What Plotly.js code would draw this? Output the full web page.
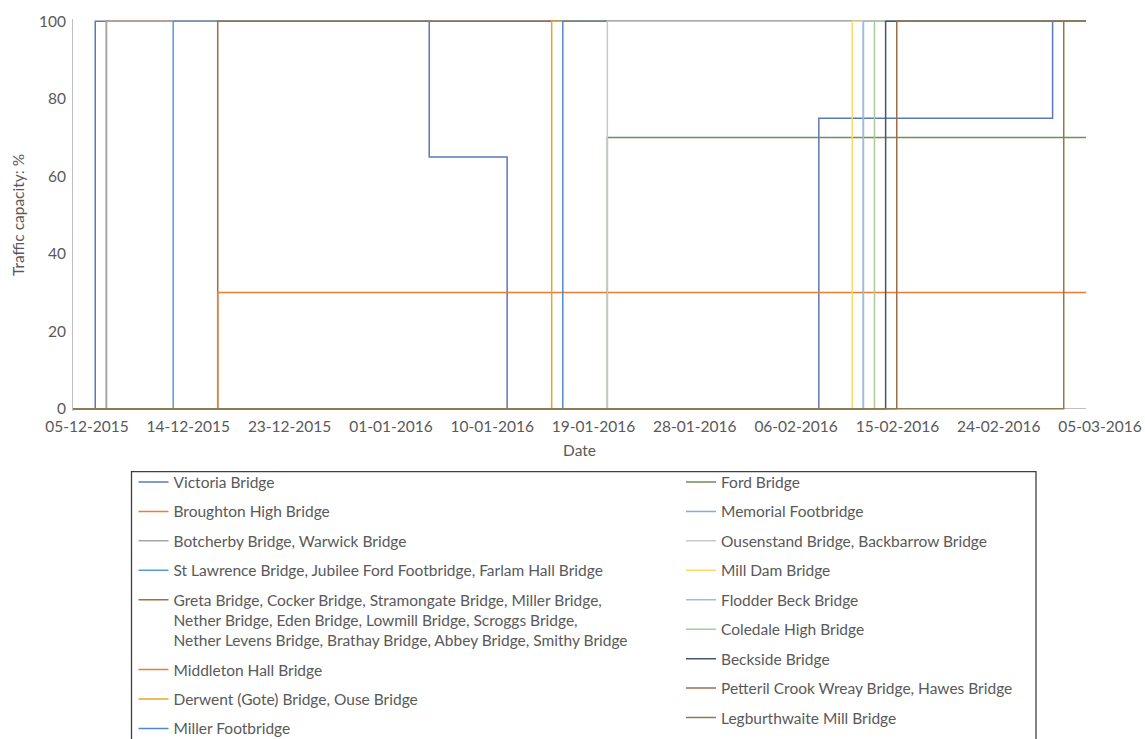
<!DOCTYPE html>
<html>
<head>
<meta charset="utf-8">
<script src="https://cdn.plot.ly/plotly-3.0.1.min.js"></script>
<style>
  html, body { margin: 0; padding: 0; background: #ffffff; }
  #chart { width: 1145px; height: 739px; }
</style>
</head>
<body>
<div id="chart"></div>
<script>
// Bridge names, one per series (drawn in this order)
const seriesNames = [
  'Victoria Bridge',
  'Broughton High Bridge',
  'Botcherby Bridge, Warwick Bridge',
  'St Lawrence Bridge, Jubilee Ford Footbridge, Farlam Hall Bridge',
  'Greta Bridge, Cocker Bridge, Stramongate Bridge, Miller Bridge,<br>Nether Bridge, Eden Bridge, Lowmill Bridge, Scroggs Bridge,<br>Nether Levens Bridge, Brathay Bridge, Abbey Bridge, Smithy Bridge',
  'Middleton Hall Bridge',
  'Derwent (Gote) Bridge, Ouse Bridge',
  'Miller Footbridge',
  'Ford Bridge',
  'Memorial Footbridge',
  'Ousenstand Bridge, Backbarrow Bridge',
  'Mill Dam Bridge',
  'Flodder Beck Bridge',
  'Coledale High Bridge',
  'Beckside Bridge',
  'Petteril Crook Wreay Bridge, Hawes Bridge',
  'Legburthwaite Mill Bridge'
];

// Dates on which each bridge's traffic capacity changed
const changeDates = [
  ['2015-12-05', '2015-12-07', '2016-01-06', '2016-01-13', '2016-02-10', '2016-03-02', '2016-03-05'],
  ['2015-12-05', '2015-12-08', '2016-03-05'],
  ['2015-12-05', '2015-12-08', '2016-03-05'],
  ['2015-12-05', '2015-12-14', '2016-03-05'],
  ['2015-12-05', '2015-12-18', '2016-03-05'],
  ['2015-12-05', '2015-12-18', '2016-03-05'],
  ['2015-12-05', '2016-01-17', '2016-03-05'],
  ['2015-12-05', '2016-01-18', '2016-03-05'],
  ['2015-12-05', '2016-01-22', '2016-03-05'],
  ['2015-12-05', '2016-02-14', '2016-03-05'],
  ['2015-12-05', '2016-01-22', '2016-03-05'],
  ['2015-12-05', '2016-02-13', '2016-03-05'],
  ['2015-12-05', '2016-02-14', '2016-03-05'],
  ['2015-12-05', '2016-02-15', '2016-03-05'],
  ['2015-12-05', '2016-02-16', '2016-03-05'],
  ['2015-12-05', '2016-02-17', '2016-03-05'],
  ['2015-12-05', '2016-03-03', '2016-03-05']
];

// Traffic capacity (%) from each change date onwards
const capacityValues = [
  [0, 100, 65, 0, 75, 100, 100],
  [0, 100, 100],
  [0, 100, 100],
  [0, 100, 100],
  [0, 100, 100],
  [0, 30, 30],
  [0, 100, 100],
  [0, 100, 100],
  [0, 70, 70],
  [0, 100, 100],
  [0, 100, 100],
  [0, 100, 100],
  [0, 100, 100],
  [0, 100, 100],
  [0, 100, 100],
  [0, 100, 100],
  [0, 100, 100]
];

// Date axis labels (one every 9.1 days from the axis start)
const dateTickLabels = [
  '05-12-2015', '14-12-2015', '23-12-2015', '01-01-2016', '10-01-2016',
  '19-01-2016', '28-01-2016', '06-02-2016', '15-02-2016', '24-02-2016', '05-03-2016'
];

const lineColors = [
  '#5B78B8', '#ED7D31', '#A5A5A5', '#5B9BD5', '#A86A3E', '#EB7D34',
  '#E0A82C', '#5089C8', '#6F8C5E', '#8EA5DA', '#C8C8C8', '#FFD966',
  '#9DBBE2', '#A9CB97', '#46556E', '#9E6E4C', '#8C7B4C'
];

function pad(n) { return String(n).padStart(2, '0'); }
function fmtDate(ms) {
  const d = new Date(ms);
  return d.getUTCFullYear() + '-' + pad(d.getUTCMonth() + 1) + '-' + pad(d.getUTCDate()) +
    ' ' + pad(d.getUTCHours()) + ':' + pad(d.getUTCMinutes()) + ':' + pad(d.getUTCSeconds());
}
const axisStart = Date.UTC(2015, 11, 5);
const dayMs = 86400000;
const tickPositions = dateTickLabels.map((_, k) => fmtDate(axisStart + k * 9.1 * dayMs));

const traces = seriesNames.map((name, i) => ({
  type: 'scatter',
  mode: 'lines',
  name: name,
  x: changeDates[i],
  y: capacityValues[i],
  line: { shape: 'hv', color: lineColors[i], width: 1.5 },
  legend: i < 8 ? 'legend' : 'legend2',
  legendgroup: 'g' + i,
  hoverinfo: 'skip'
}));

const textGrey = '#595959';
const baseFont = { family: 'Lato, "Open Sans", sans-serif', size: 15.5, color: textGrey };

// plot area: x 73..1086 px, y(0)=409 px, y(100)=21 px
const W = 1145, H = 739;
const plotL = 73, plotR = 1086;
const yPad = 0.6;
const pxPerUnit = 388 / 100;
const plotT = 21 - yPad * pxPerUnit;
const plotB = 409 + yPad * pxPerUnit;
const px2x = px => (px - plotL) / (plotR - plotL);
const py2y = py => (plotB - py) / (plotB - plotT);

const legendCommon = {
  orientation: 'v',
  bgcolor: 'rgba(0,0,0,0)',
  borderwidth: 0,
  font: baseFont,
  tracegroupgap: 6.3,
  valign: 'top',
  itemclick: false,
  itemdoubleclick: false,
  xanchor: 'left',
  yanchor: 'top'
};

const layout = {
  width: W,
  height: H,
  paper_bgcolor: '#ffffff',
  plot_bgcolor: '#ffffff',
  font: baseFont,
  showlegend: true,
  margin: { l: plotL, r: W - plotR, t: plotT, b: H - plotB, pad: 0, autoexpand: false },
  xaxis: {
    type: 'date',
    range: ['2015-12-05', '2016-03-05'],
    tickmode: 'array',
    tickvals: tickPositions,
    ticktext: dateTickLabels,
    ticklabelshift: 14,
    ticklabelstandoff: 4,
    ticks: '',
    showgrid: false,
    showline: false,
    zeroline: false,
    tickfont: baseFont,
    title: { text: 'Date', font: baseFont, standoff: 11 },
    automargin: false,
    fixedrange: true
  },
  yaxis: {
    range: [-yPad, 100 + yPad],
    tickmode: 'linear',
    tick0: 0,
    dtick: 20,
    ticks: '',
    ticklabelstandoff: 3,
    showgrid: false,
    showline: true,
    linecolor: '#BFBFBF',
    linewidth: 1,
    zeroline: true,
    zerolinecolor: '#BFBFBF',
    zerolinewidth: 1,
    tickfont: baseFont,
    title: { text: 'Traffic capacity: %', font: baseFont, standoff: 10 },
    automargin: false,
    fixedrange: true
  },
  legend: Object.assign({}, legendCommon, { x: px2x(133.5), y: py2y(465.8) }),
  legend2: Object.assign({}, legendCommon, { x: px2x(681), y: py2y(465.8) }),
  shapes: [{
    type: 'rect',
    xref: 'paper', yref: 'paper',
    x0: px2x(131.5), x1: px2x(1036),
    y0: py2y(472), y1: py2y(780),
    line: { color: '#404040', width: 1.3 },
    fillcolor: 'rgba(0,0,0,0)'
  }]
};

Plotly.newPlot('chart', traces, layout, { staticPlot: true, displayModeBar: false });
</script>
</body>
</html>
